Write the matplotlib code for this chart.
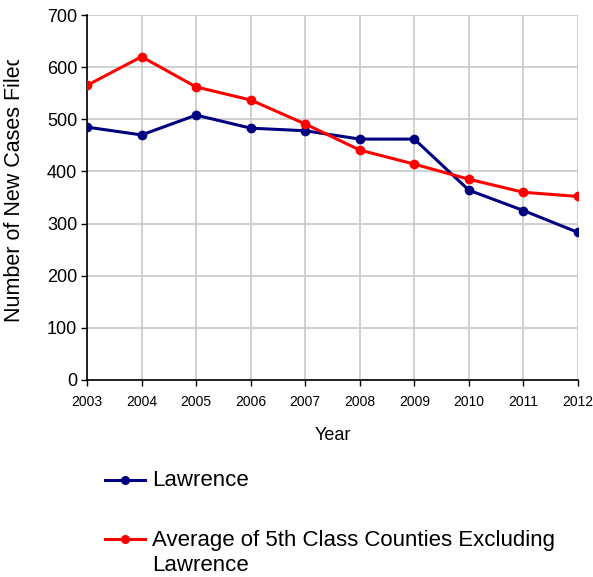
import matplotlib
matplotlib.use('Agg')
import matplotlib.pyplot as plt
from matplotlib.lines import Line2D
from matplotlib.patches import Rectangle

plt.rcParams['font.family'] = ['Liberation Sans', 'DejaVu Sans']

# datos
years = [2003, 2004, 2005, 2006, 2007, 2008, 2009, 2010, 2011, 2012]
lawrence = [485, 470, 508, 483, 478, 462, 462, 364, 325, 283]
promedio = [565, 620, 562, 537, 491, 441, 414, 385, 360, 352]
yticks = [0, 100, 200, 300, 400, 500, 600, 700]

azul = '#000080'
rojo = '#ff0000'

fig = plt.figure(figsize=(5.93, 5.77), dpi=100)
ax = fig.add_axes([87/593, 1 - 380/577, (578 - 87)/593, (380 - 15)/577])

ax.plot(years, lawrence, color=azul, lw=2.2, marker='o', ms=6, zorder=3)
ax.plot(years, promedio, color=rojo, lw=2.2, marker='o', ms=6, zorder=3)

ax.set_xlim(2003, 2012)
ax.set_ylim(0, 700)
ax.set_xticks(years)
ax.set_yticks(yticks)
ax.tick_params(axis='y', labelsize=13, length=4, width=1, pad=3)
ax.tick_params(axis='x', labelsize=10, length=4, width=1, pad=7)
ax.grid(True, color='#c8c8c8', lw=1.2)
ax.set_axisbelow(True)
for s in ['top', 'right']:
    ax.spines[s].set_visible(False)
for s in ['left', 'bottom']:
    ax.spines[s].set_linewidth(1.2)

ax.set_xlabel('Year', fontsize=13, labelpad=13)

# etiqueta y, cortada arriba como en el original (tapada con un rectangulo blanco)
fig.text(15/593, 1 - 322/577, 'Number of New Cases Filed', rotation=90,
         ha='center', va='bottom', fontsize=15.5)
fig.add_artist(Rectangle((0, 1 - 60/577), 36/593, 60/577, transform=fig.transFigure,
                         facecolor='white', edgecolor='none', zorder=10))

# leyenda manual
for yy, col in [(480, azul), (539, rojo)]:
    fig.add_artist(Line2D([105/593, 145/593], [1 - yy/577, 1 - yy/577], color=col, lw=2.2,
                          transform=fig.transFigure))
    fig.add_artist(Line2D([125/593], [1 - yy/577], color=col, marker='o', ms=5.5,
                          transform=fig.transFigure))
fig.text(152/593, 1 - 480/577, 'Lawrence', va='center', fontsize=16)
fig.text(152/593, 1 - 530/577, 'Average of 5th Class Counties Excluding\nLawrence',
         va='top', fontsize=16, linespacing=1.25)

fig.savefig('out.png', dpi=100)
